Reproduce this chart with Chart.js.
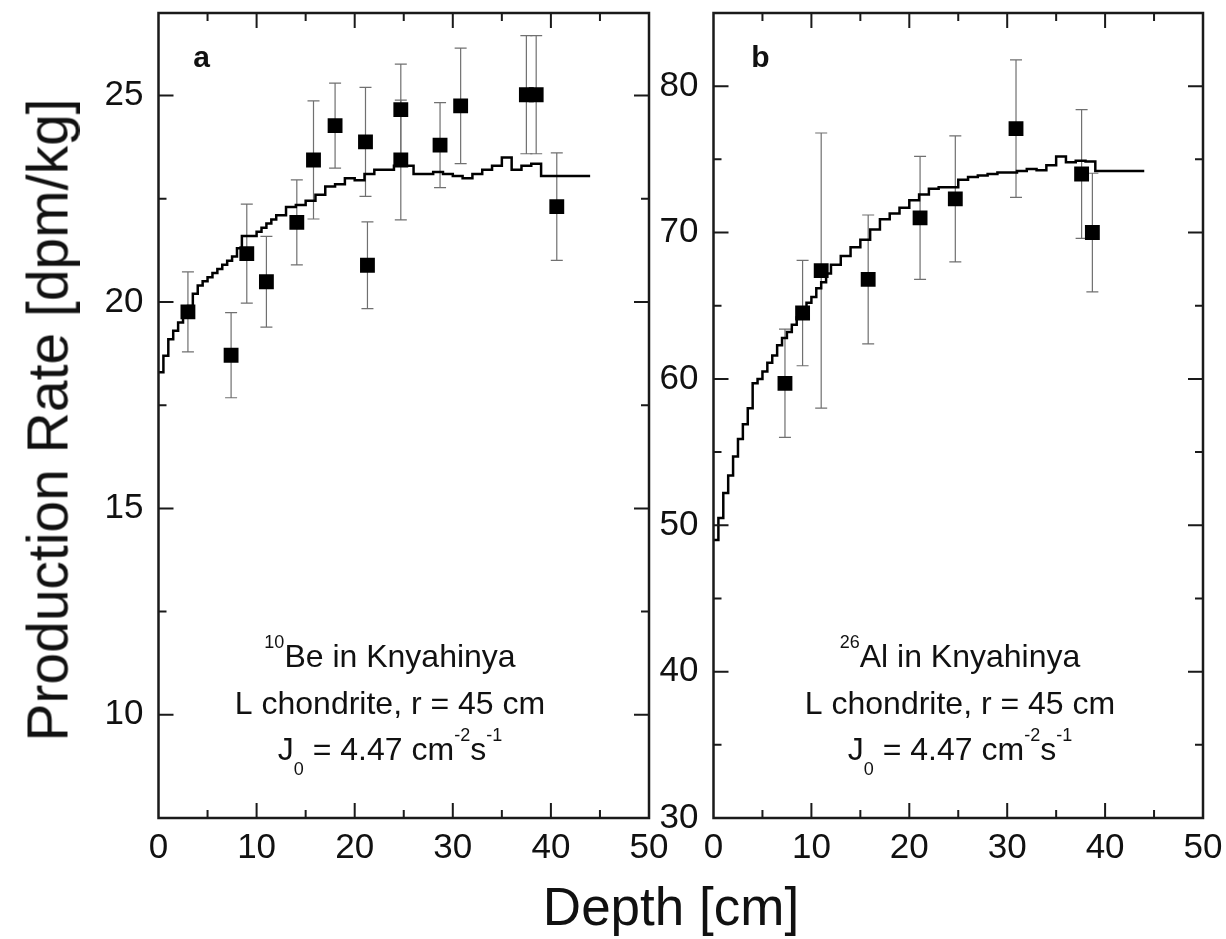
<!DOCTYPE html>
<html>
<head>
<meta charset="utf-8">
<script src="https://cdn.jsdelivr.net/npm/chart.js@4.4.1/dist/chart.umd.min.js"></script>
<style>
  body { margin: 0; background: #fff; width: 1226px; height: 939px; position: relative; overflow: hidden;
         font-family: "Liberation Sans", Arial, sans-serif; color: #111; }
  canvas { position: absolute; top: 0; }
  #panelA { left: 0; }
  #panelB { left: 660px; }
  .ytitle { position: absolute; left: 48px; top: 420px; font-size: 57px; line-height: 57px; white-space: nowrap;
            transform: translate(-50%, -50%) rotate(-90deg); }
  .xtitle { position: absolute; left: 671px; top: 880px; font-size: 53px; line-height: 53px; white-space: nowrap;
            transform: translateX(-50%); }
</style>
</head>
<body>
<canvas id="panelA" width="690" height="939"></canvas>
<canvas id="panelB" width="566" height="939"></canvas>
<div class="ytitle">Production Rate [dpm/kg]</div>
<div class="xtitle">Depth [cm]</div>

<script>
// 10Be measurements (depth cm, dpm/kg, 1-sigma)
const beDepth = [3.0, 7.4, 9.0, 11.0, 14.1, 15.8, 18.0, 21.1, 21.3, 24.7, 24.7, 28.7, 30.8, 37.5, 38.5, 40.6];
const beRate  = [19.76, 18.71, 21.17, 20.49, 21.93, 23.44, 24.27, 23.88, 20.89, 24.66, 23.44, 23.80, 24.75, 25.02, 25.02, 22.31];
const beErr   = [0.97, 1.03, 1.2, 1.1, 1.03, 1.43, 1.03, 1.32, 1.05, 1.1, 1.45, 1.03, 1.4, 1.43, 1.43, 1.3];

// 26Al measurements
const alDepth = [7.3, 9.1, 11.0, 15.8, 21.1, 24.7, 30.9, 37.6, 38.7];
const alRate  = [59.7, 64.5, 67.4, 66.8, 71.0, 72.3, 77.1, 74.0, 70.0];
const alErr   = [3.7, 3.6, 9.4, 4.4, 4.2, 4.3, 4.7, 4.4, 4.05];

// model depth grid (bin starts) shared by both calculated profiles
const curveDepth = [0, 0.5, 1, 1.5, 2, 2.5, 3, 3.5, 4, 4.5, 5, 5.5, 6, 6.5, 7, 7.5, 8, 8.5, 9, 9.5, 10, 10.5, 11, 11.5, 12,
  13, 14, 15, 16, 17, 18, 19, 20, 21, 22, 23, 24, 25, 26, 27, 28, 29, 30, 31, 32, 33, 34, 35, 36, 37, 38, 39, 40, 41, 42, 43, 44];

const beModel = [18.3, 18.7, 19.1, 19.3, 19.5, 19.7, 19.9, 20.2, 20.4, 20.5, 20.6, 20.7, 20.8, 20.9, 21.0, 21.1, 21.3, 21.6, 21.6, 21.6, 21.7, 21.8, 21.9, 22.0, 22.1,
  22.3, 22.35, 22.45, 22.6, 22.8, 22.85, 23.0, 22.95, 23.1, 23.2, 23.2, 23.3, 23.3, 23.1, 23.1, 23.15, 23.1, 23.05, 23.0, 23.1, 23.2, 23.3, 23.5, 23.2, 23.3, 23.35, 23.05, 23.05, 23.05, 23.05, 23.05, 23.05];

const alModel = [49.0, 50.5, 52.2, 53.4, 54.7, 55.9, 56.9, 58.0, 59.7, 60.0, 60.5, 61.1, 61.6, 62.3, 62.8, 63.2, 63.7, 64.2, 64.7, 65.2, 65.6, 66.2, 66.6, 67.2, 67.8,
  68.4, 69.0, 69.5, 70.2, 70.9, 71.3, 71.7, 72.2, 72.6, 73.0, 73.1, 73.1, 73.6, 73.8, 73.9, 74.0, 74.1, 74.1, 74.2, 74.35, 74.25, 74.6, 75.2, 74.8, 74.9, 74.85, 74.2, 74.2, 74.2, 74.2, 74.2, 74.2];

const FONT = '"Liberation Sans", Arial, sans-serif';
Chart.defaults.font.family = FONT;
Chart.defaults.color = '#111';

// text runs: [text, 'n' | 'sup' | 'sub']
function drawRich(ctx, runs, cx, base) {
  const fontOf = k => (k === 'n' ? '32px ' : '18px ') + FONT;
  let total = 0;
  runs.forEach(r => { ctx.font = fontOf(r[1]); total += ctx.measureText(r[0]).width; });
  let x = cx - total / 2;
  runs.forEach(r => {
    ctx.font = fontOf(r[1]);
    const dy = r[1] === 'sup' ? -19 : r[1] === 'sub' ? 15 : 0;
    ctx.fillText(r[0], x, base + dy);
    x += ctx.measureText(r[0]).width;
  });
}

const panelDecor = {
  id: 'panelDecor',
  beforeDatasetsDraw(chart) {
    const { ctx, scales: { x, y } } = chart;
    const ds = chart.data.datasets.find(d => d.err);
    ctx.save();
    ctx.strokeStyle = '#707070';
    ctx.lineWidth = 1.2;
    ds.data.forEach((p, i) => {
      const px = x.getPixelForValue(p.x);
      const top = y.getPixelForValue(p.y + ds.err[i]);
      const bot = y.getPixelForValue(p.y - ds.err[i]);
      ctx.beginPath();
      ctx.moveTo(px, top); ctx.lineTo(px, bot);
      ctx.moveTo(px - 6, top); ctx.lineTo(px + 6, top);
      ctx.moveTo(px - 6, bot); ctx.lineTo(px + 6, bot);
      ctx.stroke();
    });
    ctx.restore();
  },
  afterDraw(chart, args, o) {
    const { ctx, chartArea: a, scales: { x, y } } = chart;
    ctx.save();
    ctx.strokeStyle = '#1a1a1a';
    ctx.lineWidth = 2;
    ctx.beginPath();
    // inward ticks, mirrored on top and right
    const nx = Math.round((x.max - x.min) / o.xMinor);
    for (let i = 1; i < nx; i++) {
      const v = x.min + i * o.xMinor;
      const len = i % 2 === 0 ? 15 : 8;
      const px = x.getPixelForValue(v);
      ctx.moveTo(px, a.bottom); ctx.lineTo(px, a.bottom - len);
      ctx.moveTo(px, a.top); ctx.lineTo(px, a.top + len);
    }
    const y0 = Math.ceil(y.min / o.yMinor) * o.yMinor;
    for (let v = y0; v < y.max; v += o.yMinor) {
      if (v <= y.min) continue;
      const major = Math.abs(v / (2 * o.yMinor) - Math.round(v / (2 * o.yMinor))) < 1e-6;
      const len = major ? 15 : 8;
      const py = y.getPixelForValue(v);
      ctx.moveTo(a.left, py); ctx.lineTo(a.left + len, py);
      ctx.moveTo(a.right, py); ctx.lineTo(a.right - len, py);
    }
    ctx.stroke();
    ctx.lineWidth = 2.5;
    ctx.strokeRect(a.left, a.top, a.right - a.left, a.bottom - a.top);

    ctx.fillStyle = '#111';
    ctx.textAlign = 'center';
    ctx.textBaseline = 'alphabetic';
    ctx.font = 'bold 30px ' + FONT;
    ctx.fillText(o.letter, a.left + o.letterX, a.top + 54);
    ctx.textAlign = 'left';
    o.notes.forEach((runs, i) => drawRich(ctx, runs, a.left + o.notesX, o.notesBase + i * 46.5));
    ctx.restore();
  }
};

// keep the plot frame where it is regardless of label overhang
const noOverhang = s => { s.paddingTop = 0; s.paddingBottom = 0; s.paddingLeft = 0; s.paddingRight = 0; };

function makePanel(id, cfg) {
  const pts = cfg.depth.map((d, i) => ({ x: d, y: cfg.rate[i] }));
  const model = curveDepth.map((d, i) => ({ x: d, y: cfg.model[i] }));
  return new Chart(document.getElementById(id), {
    type: 'scatter',
    data: {
      datasets: [
        { data: pts, err: cfg.err, pointStyle: 'rect', pointRadius: 10.5, pointBackgroundColor: '#000',
          pointBorderWidth: 0, showLine: false, order: 1 },
        { data: model, showLine: true, stepped: true, borderColor: '#000', borderWidth: 2.5,
          pointRadius: 0, order: 2 }
      ]
    },
    options: {
      responsive: false,
      animation: false,
      layout: { padding: { left: 0, right: cfg.padRight, top: 13, bottom: 0 } },
      plugins: {
        legend: { display: false },
        tooltip: { enabled: false },
        panelDecor: { xMinor: 5, yMinor: cfg.yMinor, letter: cfg.letter, letterX: cfg.letterX,
                      notes: cfg.notes, notesX: cfg.notesX, notesBase: 667 }
      },
      scales: {
        x: {
          type: 'linear', min: 0, max: 50,
          grid: { display: false, drawTicks: false }, border: { display: false },
          ticks: { stepSize: 10, padding: 9, font: { size: 35 }, color: '#111' },
          afterFit: s => { s.height = 121; noOverhang(s); }
        },
        y: {
          type: 'linear', min: cfg.yMin, max: cfg.yMax,
          grid: { display: false, drawTicks: false }, border: { display: false },
          ticks: { stepSize: cfg.yStep, includeBounds: false, padding: 15, font: { size: 35 }, color: '#111' },
          afterFit: s => { s.width = cfg.yWidth; noOverhang(s); }
        }
      }
    },
    plugins: [panelDecor]
  });
}

makePanel('panelA', {
  depth: beDepth, rate: beRate, err: beErr, model: beModel,
  yMin: 7.5, yMax: 27, yStep: 5, yMinor: 2.5, yWidth: 158.5, padRight: 41,
  letter: 'a', letterX: 43, notesX: 231.5,
  notes: [
    [['10', 'sup'], ['Be in Knyahinya', 'n']],
    [['L chondrite, r = 45 cm', 'n']],
    [['J', 'n'], ['0', 'sub'], [' = 4.47 cm', 'n'], ['-2', 'sup'], ['s', 'n'], ['-1', 'sup']]
  ]
});

makePanel('panelB', {
  depth: alDepth, rate: alRate, err: alErr, model: alModel,
  yMin: 30, yMax: 85, yStep: 10, yMinor: 5, yWidth: 53.5, padRight: 23,
  letter: 'b', letterX: 47, notesX: 246.5,
  notes: [
    [['26', 'sup'], ['Al in Knyahinya', 'n']],
    [['L chondrite, r = 45 cm', 'n']],
    [['J', 'n'], ['0', 'sub'], [' = 4.47 cm', 'n'], ['-2', 'sup'], ['s', 'n'], ['-1', 'sup']]
  ]
});
</script>
</body>
</html>
